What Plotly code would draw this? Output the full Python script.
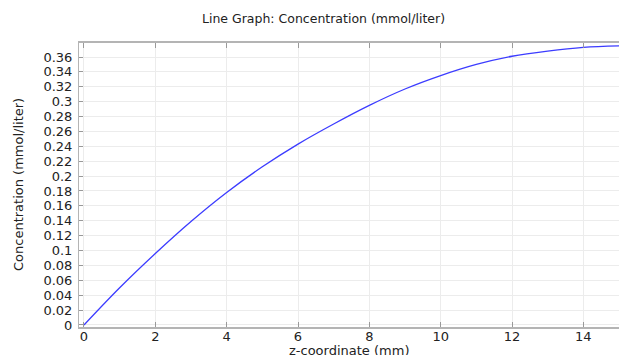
import plotly.graph_objects as go

# Data
z_mm = [0, 1, 2, 3, 4, 5, 6, 7, 8, 9, 10, 11, 12, 13, 14, 15]
conc = [0.0, 0.050, 0.096, 0.139, 0.178, 0.2125, 0.243, 0.270, 0.295, 0.317,
        0.335, 0.350, 0.361, 0.368, 0.373, 0.375]

x_ticks = [0, 2, 4, 6, 8, 10, 12, 14]
y_ticks = [0, 0.02, 0.04, 0.06, 0.08, 0.1, 0.12, 0.14, 0.16, 0.18, 0.2, 0.22,
           0.24, 0.26, 0.28, 0.3, 0.32, 0.34, 0.36]
y_tick_text = ["0", "0.02", "0.04", "0.06", "0.08", "0.1", "0.12", "0.14", "0.16",
               "0.18", "0.2", "0.22", "0.24", "0.26", "0.28", "0.3", "0.32",
               "0.34", "0.36"]

FONT = "DejaVu Sans"
TXT = "#222"
W, H = 619, 355
ML, MR, MT, MB = 79, 0, 43, 28
pw, ph = W - ML - MR, H - MT - MB


def px2paper(px, py):
    return (px - ML) / pw, (H - MB - py) / ph


fig = go.Figure()
fig.add_trace(go.Scatter(x=z_mm, y=conc, mode="lines", line_shape="spline",
                         line=dict(color="rgb(60,60,255)", width=1.3),
                         showlegend=False, hoverinfo="skip"))

tx, ty = px2paper(323, 19)
xx, xy = px2paper(349, 351)
yx, yy = px2paper(18, 185)

fig.update_layout(
    width=W, height=H, autosize=False,
    margin=dict(l=ML, r=MR, t=MT, b=MB, autoexpand=False),
    paper_bgcolor="white", plot_bgcolor="white",
    font=dict(family=FONT, size=13, color=TXT),
    annotations=[
        dict(text="Line Graph: Concentration (mmol/liter)", x=tx, y=ty,
             xref="paper", yref="paper", showarrow=False,
             xanchor="center", yanchor="middle",
             font=dict(family=FONT, size=12.5, color=TXT)),
        dict(text="z-coordinate (mm)", x=xx, y=xy,
             xref="paper", yref="paper", showarrow=False,
             xanchor="center", yanchor="middle",
             font=dict(family=FONT, size=13, color=TXT)),
        dict(text="Concentration (mmol/liter)", x=yx, y=yy, textangle=-90,
             xref="paper", yref="paper", showarrow=False,
             xanchor="center", yanchor="middle",
             font=dict(family=FONT, size=13, color=TXT)),
    ],
)

fig.update_xaxes(
    range=[-0.14, 15.0], tickvals=x_ticks, ticktext=[str(v) for v in x_ticks],
    showgrid=True, gridcolor="#ececec", gridwidth=1, zeroline=False,
    showline=True, linecolor="#b4b4b4", linewidth=2,
    ticks="inside", ticklen=5, tickcolor="#999", mirror="ticks",
    tickfont=dict(family=FONT, size=13, color=TXT),
    ticklabelstandoff=-4,
    automargin=False,
)
fig.update_yaxes(
    range=[-0.0027, 0.3788], tickvals=y_ticks, ticktext=y_tick_text,
    showgrid=True, gridcolor="#ececec", gridwidth=1, zeroline=False,
    showline=True, linecolor="#b4b4b4", linewidth=1,
    ticks="inside", ticklen=4, tickcolor="#999",
    tickfont=dict(family=FONT, size=13, color=TXT),
    ticklabelstandoff=3,
    automargin=False,
)

post = (
    "document.documentElement.style.margin='0';"
    "document.documentElement.style.overflow='hidden';"
    "document.body.style.margin='0';document.body.style.padding='0';"
    "document.body.style.overflow='hidden';"
    "var gd=document.getElementById('{plot_id}');"
    "Plotly.relayout(gd,{width:%d,height:%d});" % (W, H)
)

fig.write_html("out.html", post_script=post,
               config={"responsive": False, "displayModeBar": False})
